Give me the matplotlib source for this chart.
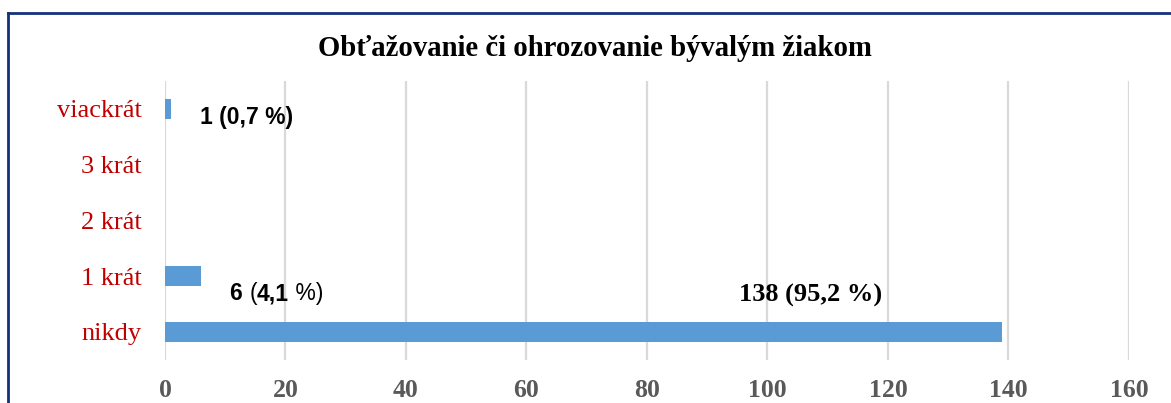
import numpy as np
import matplotlib.pyplot as plt
from matplotlib.lines import Line2D

categories = ["nikdy", "1 krát", "2 krát", "3 krát", "viackrát"]
counts = [139, 6, 0, 0, 1]
labels = ["138 (95,2 %)", "6 (4,1 %)", "", "", "1 (0,7 %)"]
xticks = [0, 20, 40, 60, 80, 100, 120, 140, 160]
title = "Obťažovanie či ohrozovanie bývalým žiakom"

serif = "Liberation Serif"
sans = "Liberation Sans"

fig = plt.figure(figsize=(11.71, 4.03), dpi=100)
ax = fig.add_axes([0.1409, 0.107, 0.8232, 0.692])

y = np.arange(len(categories))
ax.barh(y, counts, height=0.36, color="#5b9bd5", zorder=3)

ax.set_xlim(0, 160)
ax.set_ylim(-0.5, len(categories) - 0.5)
ax.set_xticks(xticks)
ax.set_yticks(y)
ax.set_yticklabels(categories, fontfamily=serif, fontsize=19, color="#c00000")
ax.set_xticklabels([str(t) for t in xticks], fontfamily=serif, fontsize=18.5,
		fontweight="bold", color="#595959")
ax.tick_params(axis="y", length=0, pad=17)
ax.tick_params(axis="x", length=0, pad=14)
ax.xaxis.grid(True, color="#d9d9d9", linewidth=1.6, zorder=0)
for s in ax.spines.values():
	s.set_visible(False)

# data labels, placed next to their bars
ax.text(counts[4] + 4.8, y[4] - 0.16, labels[4], fontfamily=sans, fontsize=16.5,
		fontweight="bold", va="center", ha="left")

# "6 (4,1 %)" has mixed weights in the original
parts = [("6 ", "bold"), ("(", "normal"), ("4,1", "bold"), (" %)", "normal")]
prev = ax.text(counts[1] + 4.8, y[1] - 0.43, parts[0][0], fontfamily=sans,
		fontsize=16.5, fontweight=parts[0][1], va="baseline", ha="left")
for txt, w in parts[1:]:
	prev = ax.annotate(txt, xy=(1, 0), xycoords=prev, xytext=(0, 0),
			textcoords="offset points", fontfamily=sans, fontsize=16.5,
			fontweight=w, va="bottom", ha="left")

ax.text(107.2, y[0] + 0.65, labels[0], fontfamily=serif, fontsize=19,
		weight="bold", va="center", ha="center")

fig.text(0.508, 0.88, title, fontfamily=serif, fontsize=20.7, fontweight="bold",
		ha="center", va="center")

# frame around the chart (cut off at right and bottom)
fig.add_artist(Line2D([8/1171, 1], [1 - 13/403, 1 - 13/403], color="#14327a", lw=2))
fig.add_artist(Line2D([8/1171, 8/1171], [0, 1 - 13/403], color="#14327a", lw=2))

fig.savefig("out.png", dpi=100)
